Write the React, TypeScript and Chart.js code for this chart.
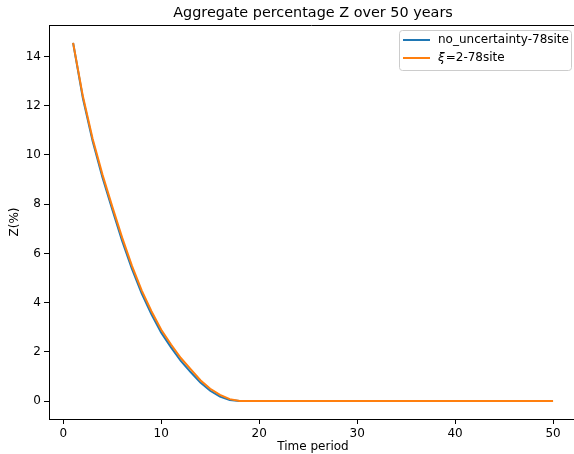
import React, { useEffect, useRef } from "react";
import { Chart, registerables } from "chart.js";

Chart.register(...registerables);

const FONT = "'DejaVu Sans', 'Liberation Sans', sans-serif";

const titleText = "Aggregate percentage Z over 50 years";
const xAxisLabel = "Time period";
const yAxisLabel = "Z(%)";
const seriesLabels = ["no_uncertainty-78site", "ξ=2-78site"];
const seriesColors = ["#1f77b4", "#ff7f0e"];

const timePeriods = [
  1, 2, 3, 4, 5, 6, 7, 8, 9, 10, 11, 12, 13, 14, 15, 16, 17, 18, 19, 20, 21, 22, 23, 24, 25,
  26, 27, 28, 29, 30, 31, 32, 33, 34, 35, 36, 37, 38, 39, 40, 41, 42, 43, 44, 45, 46, 47, 48, 49, 50,
];

const noUncertainty = [
  14.55, 12.3, 10.55, 9.08, 7.78, 6.52, 5.38, 4.38, 3.53, 2.78, 2.18, 1.63, 1.18, 0.75, 0.42, 0.18, 0.04,
  0, 0, 0, 0, 0, 0, 0, 0, 0, 0, 0, 0, 0, 0, 0, 0, 0, 0, 0, 0, 0, 0, 0, 0, 0, 0, 0, 0, 0, 0, 0, 0, 0,
];

const xi2 = [
  14.55, 12.38, 10.65, 9.2, 7.9, 6.65, 5.5, 4.5, 3.65, 2.9, 2.3, 1.75, 1.3, 0.85, 0.5, 0.25, 0.08,
  0, 0, 0, 0, 0, 0, 0, 0, 0, 0, 0, 0, 0, 0, 0, 0, 0, 0, 0, 0, 0, 0, 0, 0, 0, 0, 0, 0, 0, 0, 0, 0, 0,
];

const xTicks = [0, 10, 20, 30, 40, 50];
const yTicks = [0, 2, 4, 6, 8, 10, 12, 14];

const decorPlugin = {
  id: "decor",
  afterDraw(chart: any) {
    const ctx = chart.ctx as CanvasRenderingContext2D;
    const a = chart.chartArea;
    ctx.save();
    // top spine
    ctx.strokeStyle = "#000";
    ctx.lineWidth = 1;
    ctx.beginPath();
    ctx.moveTo(a.left, Math.round(a.top) + 0.5);
    ctx.lineTo(a.right, Math.round(a.top) + 0.5);
    ctx.stroke();

    const cx = 313;
    ctx.fillStyle = "#000";
    ctx.textAlign = "center";
    ctx.textBaseline = "middle";
    ctx.font = `14.4px ${FONT}`;
    ctx.fillText(titleText, cx, 13);
    ctx.font = `12px ${FONT}`;
    ctx.fillText(xAxisLabel, cx, 447);
    ctx.save();
    ctx.translate(15, (a.top + a.bottom) / 2);
    ctx.rotate(-Math.PI / 2);
    ctx.fillText(yAxisLabel, 0, 0);
    ctx.restore();

    // legend
    const bx = 399.5, by = 30.5, bw = 172, bh = 40;
    ctx.beginPath();
    (ctx as any).roundRect(bx, by, bw, bh, 3);
    ctx.fillStyle = "rgba(255,255,255,0.8)";
    ctx.fill();
    ctx.strokeStyle = "#cccccc";
    ctx.lineWidth = 1;
    ctx.stroke();

    const rows = [40, 58];
    chart.data.datasets.forEach((ds: any, i: number) => {
      const y = rows[i];
      ctx.strokeStyle = ds.borderColor;
      ctx.lineWidth = 2;
      ctx.beginPath();
      ctx.moveTo(403, y);
      ctx.lineTo(430, y);
      ctx.stroke();
      ctx.fillStyle = "#000";
      ctx.textAlign = "left";
      ctx.textBaseline = "middle";
      const label: string = ds.label;
      let x = 438;
      if (/^[\u0370-\u03ff]/.test(label)) {
        ctx.font = `italic 12px ${FONT}`;
        const g = label[0];
        ctx.fillText(g, x, y);
        x += ctx.measureText(g).width + 1;
        ctx.font = `12px ${FONT}`;
        ctx.fillText(label.slice(1), x, y);
      } else {
        ctx.font = `12px ${FONT}`;
        ctx.fillText(label, x, y);
      }
    });
    ctx.restore();
  },
};

export default function App() {
  const ref = useRef<HTMLCanvasElement | null>(null);

  useEffect(() => {
    if (!ref.current) return;
    const series = [noUncertainty, xi2];
    const chart = new Chart(ref.current, {
      type: "line",
      data: {
        datasets: series.map((vals, i) => ({
          label: seriesLabels[i],
          data: timePeriods.map((t, j) => ({ x: t, y: vals[j] })),
          borderColor: seriesColors[i],
          backgroundColor: seriesColors[i],
          borderWidth: 2,
          pointRadius: 0,
          tension: 0,
          fill: false,
          order: i === 0 ? 1 : 0,
        })),
      },
      options: {
        animation: false,
        responsive: true,
        maintainAspectRatio: false,
        layout: { padding: { top: 25, right: 0, bottom: 0, left: 0 } },
        plugins: {
          legend: { display: false },
          title: { display: false },
          tooltip: { enabled: false },
        },
        scales: {
          x: {
            type: "linear",
            min: -1.46,
            max: 52.14,
            afterBuildTicks: (scale: any) => {
              scale.ticks = xTicks.map((v) => ({ value: v }));
            },
            afterFit: (scale: any) => {
              scale.height = 35;
            },
            grid: {
              display: true,
              drawOnChartArea: false,
              drawTicks: true,
              tickLength: 5,
              color: "#000",
            },
            border: { display: true, color: "#000", width: 1 },
            ticks: {
              padding: 3,
              color: "#000",
              font: { family: FONT, size: 12 },
              maxRotation: 0,
              autoSkip: false,
            },
          },
          y: {
            type: "linear",
            min: -0.7275,
            max: 15.2775,
            afterBuildTicks: (scale: any) => {
              scale.ticks = yTicks.map((v) => ({ value: v }));
            },
            afterFit: (scale: any) => {
              scale.width = 49;
            },
            grid: {
              display: true,
              drawOnChartArea: false,
              drawTicks: true,
              tickLength: 5,
              color: "#000",
            },
            border: { display: true, color: "#000", width: 1 },
            ticks: {
              padding: 3,
              color: "#000",
              font: { family: FONT, size: 12 },
              autoSkip: false,
            },
          },
        },
      },
      plugins: [decorPlugin],
    });
    return () => chart.destroy();
  }, []);

  return (
    <div style={{ position: "absolute", left: 0, top: 0, width: 574, height: 454, background: "#fff" }}>
      <canvas ref={ref} />
    </div>
  );
}
